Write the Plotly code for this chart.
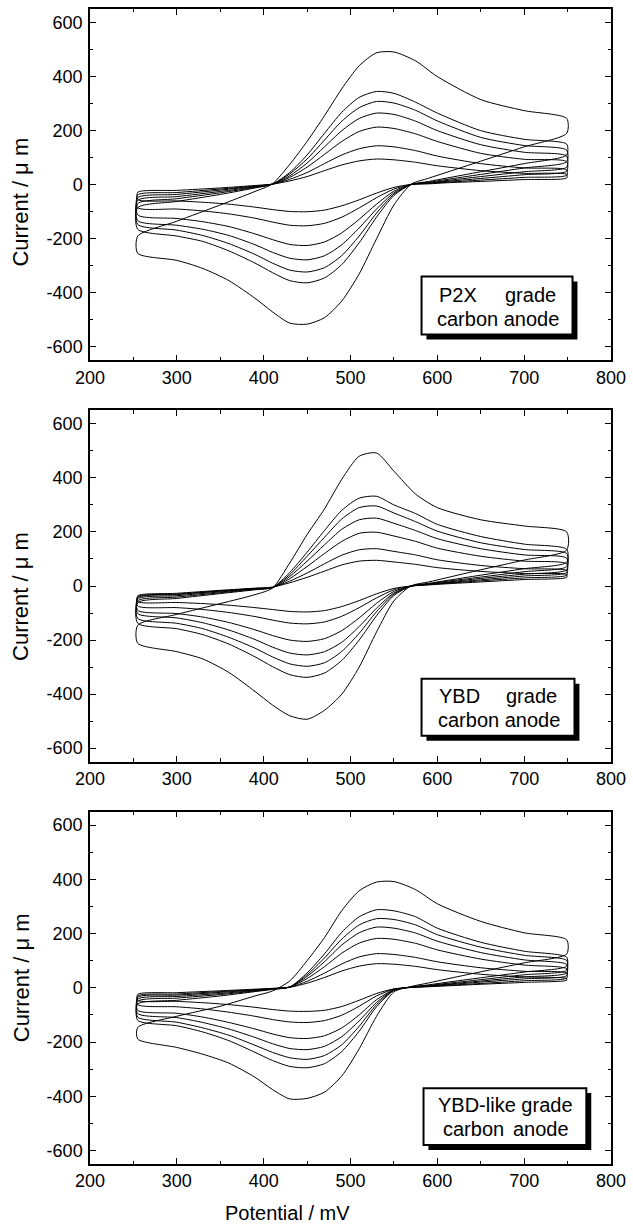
import plotly.graph_objects as go

# ---------------- data ----------------
# potential grid of the forward (anodic) and reverse (cathodic) sweeps, mV
FWD_X = [255, 300, 350, 390, 410, 430, 450, 470, 490, 510, 530, 550, 575, 600, 650, 700, 749]
REV_X = [749, 700, 650, 610, 590, 570, 550, 530, 510, 490, 470, 450, 430, 410, 390, 360, 330, 300, 255]

# P2X grade carbon anode (7 scan rates, largest first)
P2X_FWD = [
    [-190, -135, -75, -25, 3, 75, 160, 255, 355, 440, 488, 491, 458, 400, 315, 274, 245],
    [-85, -62, -36, -12, 2, 45, 110, 190, 268, 323, 345, 338, 305, 265, 200, 168, 150],
    [-70, -52, -30, -10, 2, 40, 95, 165, 235, 285, 308, 302, 275, 236, 175, 145, 128],
    [-58, -44, -25, -8, 2, 33, 80, 140, 200, 245, 265, 260, 235, 200, 148, 120, 106],
    [-48, -36, -20, -6, 2, 27, 65, 112, 160, 197, 213, 208, 188, 160, 116, 94, 85],
    [-38, -29, -16, -5, 2, 20, 45, 78, 110, 133, 144, 140, 126, 106, 78, 62, 55],
    [-28, -21, -12, -3, 2, 14, 30, 52, 73, 88, 95, 92, 83, 70, 52, 42, 38],
]
P2X_REV = [
    [190, 140, 87, 45, 24, 2, -75, -200, -330, -430, -492, -516, -512, -470, -420, -355, -310, -280, -254],
    [110, 78, 48, 24, 12, 1, -40, -120, -215, -295, -345, -363, -355, -325, -290, -245, -210, -190, -165],
    [85, 62, 38, 19, 9, 1, -35, -105, -190, -262, -307, -323, -316, -290, -258, -218, -188, -168, -147],
    [65, 48, 30, 15, 7, 1, -30, -90, -160, -222, -263, -278, -272, -250, -222, -188, -165, -150, -133],
    [50, 37, 23, 12, 6, 1, -24, -72, -128, -178, -212, -225, -221, -203, -182, -155, -137, -125, -112],
    [35, 27, 17, 9, 5, 1, -16, -48, -86, -120, -143, -152, -150, -138, -124, -108, -97, -90, -85],
    [25, 19, 12, 7, 3, 1, -10, -31, -56, -78, -94, -100, -99, -92, -83, -72, -65, -60, -55],
]

# YBD grade carbon anode
YBD_FWD = [
    [-145, -105, -65, -32, -8, 85, 190, 285, 395, 480, 492, 425, 340, 290, 245, 222, 200],
    [-62, -46, -28, -14, -6, 50, 125, 205, 280, 325, 332, 300, 268, 228, 183, 155, 136],
    [-55, -41, -25, -12, -6, 42, 110, 180, 248, 290, 296, 270, 238, 203, 160, 135, 120],
    [-48, -36, -22, -11, -6, 35, 92, 152, 210, 245, 251, 232, 205, 175, 138, 115, 103],
    [-43, -32, -19, -10, -6, 27, 72, 120, 165, 195, 199, 185, 165, 140, 110, 92, 82],
    [-40, -30, -18, -9, -5, 18, 48, 82, 114, 134, 138, 128, 115, 97, 76, 64, 57],
    [-36, -27, -16, -8, -4, 12, 32, 55, 78, 92, 95, 89, 80, 68, 54, 46, 42],
]
YBD_REV = [
    [133, 96, 60, 30, 15, 1, -55, -170, -300, -400, -460, -493, -480, -440, -390, -320, -270, -243, -212],
    [88, 64, 40, 20, 10, 0, -35, -110, -200, -275, -322, -338, -328, -298, -262, -215, -180, -158, -138],
    [72, 53, 33, 17, 8, 0, -30, -95, -175, -242, -284, -297, -288, -262, -230, -190, -158, -138, -120],
    [60, 44, 28, 14, 7, 0, -26, -82, -150, -208, -243, -255, -248, -226, -198, -163, -136, -118, -102],
    [50, 37, 23, 12, 6, 0, -20, -64, -118, -165, -195, -205, -200, -183, -162, -135, -115, -102, -90],
    [40, 30, 19, 10, 5, 0, -14, -44, -80, -112, -133, -140, -137, -126, -113, -98, -87, -80, -74],
    [32, 24, 15, 8, 4, 0, -9, -29, -54, -76, -91, -96, -94, -87, -80, -71, -65, -61, -58],
]

# YBD-like grade carbon anode
YBDL_FWD = [
    [-146, -105, -68, -30, -12, 25, 100, 185, 285, 358, 390, 392, 362, 310, 245, 203, 177],
    [-60, -46, -30, -14, -6, 3, 55, 125, 205, 262, 288, 284, 262, 220, 168, 135, 113],
    [-50, -38, -25, -12, -5, 3, 48, 110, 180, 232, 255, 252, 232, 196, 150, 120, 101],
    [-42, -32, -21, -10, -4, 3, 42, 96, 158, 203, 224, 220, 202, 172, 130, 103, 86],
    [-35, -27, -17, -8, -3, 3, 34, 78, 128, 165, 182, 179, 164, 140, 106, 84, 70],
    [-30, -23, -14, -7, -3, 2, 24, 54, 88, 114, 126, 123, 112, 96, 74, 61, 54],
    [-24, -18, -11, -5, -2, 2, 17, 38, 62, 80, 89, 87, 79, 67, 50, 40, 34],
]
YBDL_REV = [
    [125, 92, 59, 32, 18, 5, -15, -105, -225, -325, -385, -408, -410, -375, -330, -278, -245, -220, -189],
    [80, 58, 37, 20, 11, 3, -10, -70, -160, -235, -280, -295, -290, -268, -238, -195, -163, -140, -120],
    [65, 48, 30, 16, 9, 3, -9, -62, -142, -210, -250, -264, -258, -238, -212, -175, -148, -127, -108],
    [55, 40, 25, 13, 7, 2, -8, -54, -122, -180, -216, -228, -224, -206, -183, -152, -128, -110, -95],
    [45, 33, 21, 11, 6, 2, -7, -44, -100, -148, -177, -187, -184, -170, -152, -128, -108, -94, -83],
    [36, 26, 16, 9, 5, 2, -5, -30, -68, -101, -121, -128, -126, -117, -105, -90, -78, -70, -62],
    [28, 20, 13, 7, 4, 1, -4, -21, -46, -69, -83, -87, -86, -80, -72, -62, -55, -50, -46],
]

X_TICKS = [200, 300, 400, 500, 600, 700, 800]
Y_TICKS = [-600, -400, -200, 0, 200, 400, 600]
PANEL_LABELS = [("P2X", "grade", "carbon anode"),
                ("YBD", "grade", "carbon anode"),
                ("YBD-like grade", None, ("carbon", "anode"))]

# ---------------- layout helpers ----------------
W, H = 633, 1226
ML, MR, MT, MB = 90, 15, 7, 62
PW, PH = W - ML - MR, H - MT - MB


def px_x(p):
    return (p - ML) / PW


def px_y(p):
    return (H - MB - p) / PH


FONT = "Arial, 'Liberation Sans', sans-serif"
domains = [(7, 359), (409, 761), (811, 1164)]

fig = go.Figure()
panels = [(P2X_FWD, P2X_REV), (YBD_FWD, YBD_REV), (YBDL_FWD, YBDL_REV)]
for i, (fwd, rev) in enumerate(panels):
    xa = "x" if i == 0 else f"x{i+1}"
    ya = "y" if i == 0 else f"y{i+1}"
    for f, r in zip(fwd, rev):
        fig.add_trace(go.Scatter(
            x=FWD_X + REV_X + [FWD_X[0]],
            y=f + r + [f[0]],
            mode="lines",
            line=dict(color="black", width=1, shape="spline", smoothing=0.7),
            xaxis=xa, yaxis=ya, showlegend=False, hoverinfo="skip"))

layout = dict(
    width=W, height=H,
    margin=dict(l=ML, r=MR, t=MT, b=MB),
    paper_bgcolor="white", plot_bgcolor="white",
    font=dict(family=FONT, color="black"),
    showlegend=False,
)

for i, (top, bot) in enumerate(domains):
    sfx = "" if i == 0 else str(i + 1)
    layout["xaxis" + sfx] = dict(
        domain=[0, 1], anchor="y" + sfx, range=[200, 800],
        tickmode="array", tickvals=X_TICKS, ticktext=[str(v) for v in X_TICKS],
        ticks="inside", ticklen=6, tickwidth=1.2, tickcolor="black",
        showline=True, linewidth=1.5, linecolor="black", mirror="ticks",
        showgrid=False, zeroline=False, ticklabeloverflow="allow",
        tickfont=dict(family=FONT, size=18, color="black"),
        minor=dict(tickmode="linear", tick0=200, dtick=50, ticks="inside",
                   ticklen=3.5, tickwidth=1.2, tickcolor="black", showgrid=False),
    )
    layout["yaxis" + sfx] = dict(
        domain=[px_y(bot), px_y(top)], anchor="x" + sfx, range=[-650, 650],
        tickmode="array", tickvals=Y_TICKS, ticktext=[str(v) for v in Y_TICKS],
        ticks="inside", ticklen=6, tickwidth=1.2, tickcolor="black",
        showline=True, linewidth=1.5, linecolor="black", mirror="ticks",
        showgrid=False, zeroline=False, ticklabelstandoff=2,
        tickfont=dict(family=FONT, size=18, color="black"),
        minor=dict(tickmode="linear", tick0=0, dtick=100, ticks="inside",
                   ticklen=3.5, tickwidth=1.2, tickcolor="black", showgrid=False),
    )

annotations = []
shapes = []

# y-axis titles
for yc in (200, 595, 977):
    annotations.append(dict(text="Current / \u03bc m", x=px_x(20), y=px_y(yc),
                            xref="paper", yref="paper", textangle=-90, showarrow=False,
                            xanchor="center", yanchor="middle",
                            font=dict(family=FONT, size=22, color="black")))
# x-axis title
annotations.append(dict(text="Potential / mV", x=px_x(290), y=px_y(1213),
                        xref="paper", yref="paper", showarrow=False,
                        xanchor="center", yanchor="middle",
                        font=dict(family=FONT, size=20, color="black")))

# label boxes (pixel geometry)
boxes = [(426, 579, 275, 333), (426, 581, 678, 735), (428, 593, 1088, 1145)]
for (x0, x1, y0, y1) in boxes:
    shapes.append(dict(type="rect", xref="paper", yref="paper",
                       x0=px_x(x0 + 5), x1=px_x(x1 + 5), y0=px_y(y1 + 5), y1=px_y(y0 + 5),
                       fillcolor="black", line=dict(color="black", width=0), layer="above"))
    shapes.append(dict(type="rect", xref="paper", yref="paper",
                       x0=px_x(x0), x1=px_x(x1), y0=px_y(y1), y1=px_y(y0),
                       fillcolor="white", line=dict(color="black", width=2), layer="above"))

tf = dict(family=FONT, size=20, color="black")


def ann(text, xp, yp, anchor):
    annotations.append(dict(text=text, x=px_x(xp), y=px_y(yp), xref="paper", yref="paper",
                            showarrow=False, xanchor=anchor, yanchor="middle", font=tf))


# P2X
ann(PANEL_LABELS[0][0], 442, 293, "left")
ann(PANEL_LABELS[0][1], 564, 293, "right")
ann(PANEL_LABELS[0][2], 503.5, 318, "center")
# YBD
ann(PANEL_LABELS[1][0], 442, 695, "left")
ann(PANEL_LABELS[1][1], 565, 695, "right")
ann(PANEL_LABELS[1][2], 504, 719, "center")
# YBD-like
ann(PANEL_LABELS[2][0], 511, 1105, "center")
ann(PANEL_LABELS[2][2][0], 446, 1129, "left")
ann(PANEL_LABELS[2][2][1], 577, 1129, "right")

layout["annotations"] = annotations
layout["shapes"] = shapes
fig.update_layout(**layout)
fig.write_html("out.html", config={"displayModeBar": False},
               post_script="document.body.style.margin='0px';document.body.style.overflow='hidden';")
